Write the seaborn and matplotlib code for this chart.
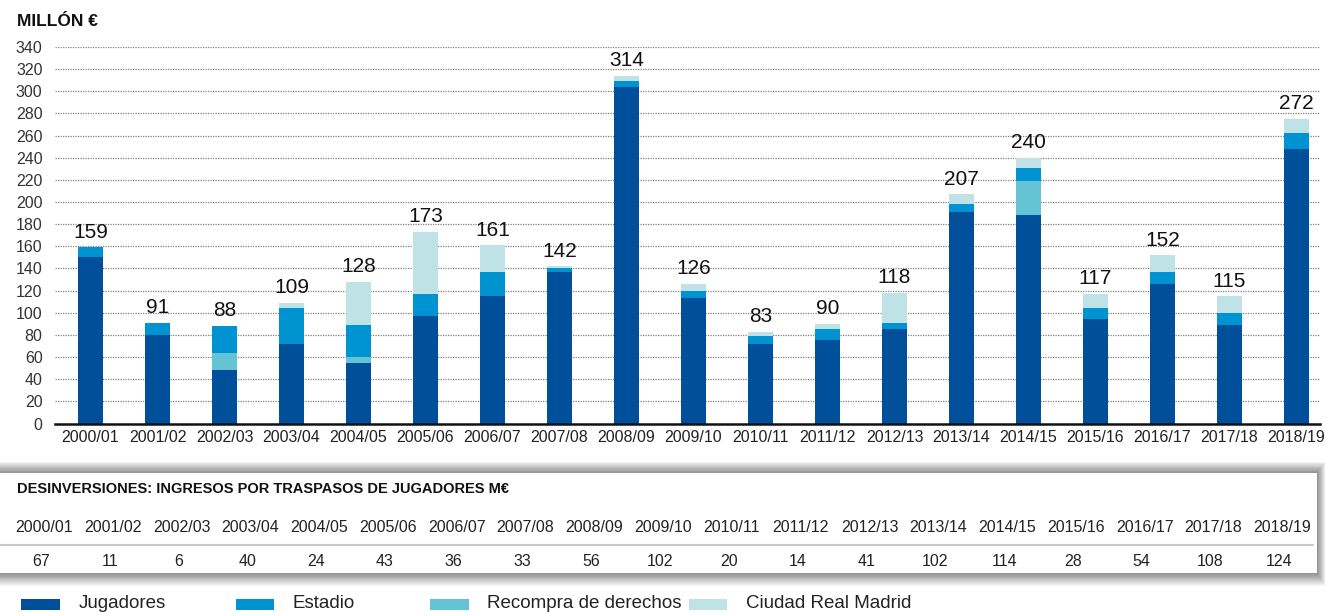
import numpy as np
import pandas as pd
import matplotlib
matplotlib.use("Agg")
import matplotlib.pyplot as plt
import seaborn as sns
from matplotlib.patches import Rectangle

# ---------------- data ----------------
seasons = ["2000/01", "2001/02", "2002/03", "2003/04", "2004/05", "2005/06", "2006/07",
           "2007/08", "2008/09", "2009/10", "2010/11", "2011/12", "2012/13", "2013/14",
           "2014/15", "2015/16", "2016/17", "2017/18", "2018/19"]
jugadores = [150, 80, 48, 72, 55, 97, 115, 137, 304, 113, 72, 75, 85, 191, 188, 94, 126, 89, 248]
recompra = [0, 0, 16, 0, 5, 0, 0, 0, 0, 0, 0, 0, 0, 0, 31, 0, 0, 0, 0]
estadio = [9, 11, 24, 32, 29, 20, 22, 3, 5, 7, 7, 10, 6, 7, 12, 10, 11, 11, 14]
ciudad = [0, 0, 0, 5, 39, 56, 24, 2, 5, 6, 4, 5, 27, 9, 9, 13, 15, 15, 13]
totales = [159, 91, 88, 109, 128, 173, 161, 142, 314, 126, 83, 90, 118, 207, 240, 117, 152, 115, 272]
desinversiones = [67, 11, 6, 40, 24, 43, 36, 33, 56, 102, 20, 14, 41, 102, 114, 28, 54, 108, 124]
series_names = ["Jugadores", "Estadio", "Recompra de derechos", "Ciudad Real Madrid"]
colors = {"Jugadores": "#004f9a", "Estadio": "#0093d1",
          "Recompra de derechos": "#64c4d6", "Ciudad Real Madrid": "#bfe2e7"}

df = pd.DataFrame({"season": seasons, "Jugadores": jugadores, "Recompra": recompra,
                   "Estadio": estadio, "Ciudad": ciudad})
df["c_j"] = df["Jugadores"]
df["c_r"] = df["c_j"] + df["Recompra"]
df["c_e"] = df["c_r"] + df["Estadio"]
df["c_c"] = df["c_e"] + df["Ciudad"]

# ---------------- figure ----------------
W, H = 1326, 612
fig = plt.figure(figsize=(W / 100, H / 100), dpi=100)
sns.set_style("white")
plt.rcParams["font.family"] = ["Liberation Sans", "DejaVu Sans"]

def fx(px):
    return px / W

def fy(py):
    return 1 - py / H

ax = fig.add_axes([fx(55), fy(423.5), fx(1320) - fx(55), fy(47) - fy(423.5)])

layers = [("c_c", colors["Ciudad Real Madrid"]), ("c_e", colors["Estadio"]),
          ("c_r", colors["Recompra de derechos"]), ("c_j", colors["Jugadores"])]
for col, c in layers:
    sns.barplot(data=df, x="season", y=col, color=c, saturation=1, width=0.373,
                linewidth=0, ax=ax, zorder=3)

ax.set_ylim(0, 340)
ax.set_xlim(-0.53, 18.35)
ax.set_yticks(np.arange(0, 341, 20))
ax.set_xlabel("")
ax.set_ylabel("")
ax.yaxis.grid(True, linestyle=(0, (1, 1)), color="#808080", linewidth=0.9)
ax.xaxis.grid(False)
ax.set_axisbelow(True)
for s in ["top", "right", "left"]:
    ax.spines[s].set_visible(False)
ax.spines["bottom"].set_color("#111111")
ax.spines["bottom"].set_linewidth(1.8)
ax.spines["bottom"].set_zorder(5)
ax.tick_params(axis="y", length=0, pad=9, labelsize=11.5, labelcolor="#333333")
ax.tick_params(axis="x", length=0, pad=5, labelsize=11.5, labelcolor="#222222")

for i, t in enumerate(totales):
    ax.annotate(str(t), xy=(i, df["c_c"][i]), xytext=(0, 4), textcoords="offset points",
                ha="center", va="bottom", fontsize=15, color="#111111", zorder=6)

fig.text(fx(17), fy(21), "MILLÓN €", fontsize=12.5, fontweight="bold",
         va="center", ha="left", color="#111111")

# ---------------- table box ----------------
bx0, bx1, by0, by1 = 0, 1317, 473, 573
for k in range(14, 0, -1):
    fig.patches.append(Rectangle((fx(bx0 - 2), fy(by1 + k * 0.9)),
                                 fx(bx1 + k * 0.6) - fx(bx0 - 2),
                                 fy(by0 - k * 0.8) - fy(by1 + k * 0.9),
                                 transform=fig.transFigure, facecolor="#000000",
                                 alpha=0.035, edgecolor="none", zorder=0))
fig.patches.append(Rectangle((fx(bx0), fy(by1)), fx(bx1) - fx(bx0), fy(by0) - fy(by1),
                             transform=fig.transFigure, facecolor="white",
                             edgecolor="none", zorder=1))
fig.text(fx(17), fy(489), "DESINVERSIONES: INGRESOS POR TRASPASOS DE JUGADORES M€",
         fontsize=10.5, fontweight="bold", va="center", ha="left", color="#111111", zorder=3)
fig.lines.append(plt.Line2D([fx(0), fx(1313)], [fy(545), fy(545)], transform=fig.transFigure,
                            color="#c8c8c8", linewidth=1.5, zorder=3))
for i, (s, v) in enumerate(zip(seasons, desinversiones)):
    xc = 44 + i * 68.8
    fig.text(fx(xc), fy(527), s, fontsize=11.5, color="#222222", ha="center", va="center",
             zorder=3)
    fig.text(fx(xc - 3), fy(562), str(v), fontsize=11.5, color="#222222", ha="center",
             va="center", zorder=3)

# ---------------- legend ----------------
leg_patch_x = [(21, 60), (236, 274), (430, 469), (689, 727)]
leg_text_x = [79, 293, 487, 746]
for name, (x0, x1), tx in zip(series_names, leg_patch_x, leg_text_x):
    fig.patches.append(Rectangle((fx(x0), fy(610)), fx(x1) - fx(x0), fy(599) - fy(610),
                                 transform=fig.transFigure, facecolor=colors[name],
                                 edgecolor="none"))
    fig.text(fx(tx), fy(604), name, fontsize=13.5, color="#222222", va="center", ha="left")

fig.savefig("out.png", dpi=100)
